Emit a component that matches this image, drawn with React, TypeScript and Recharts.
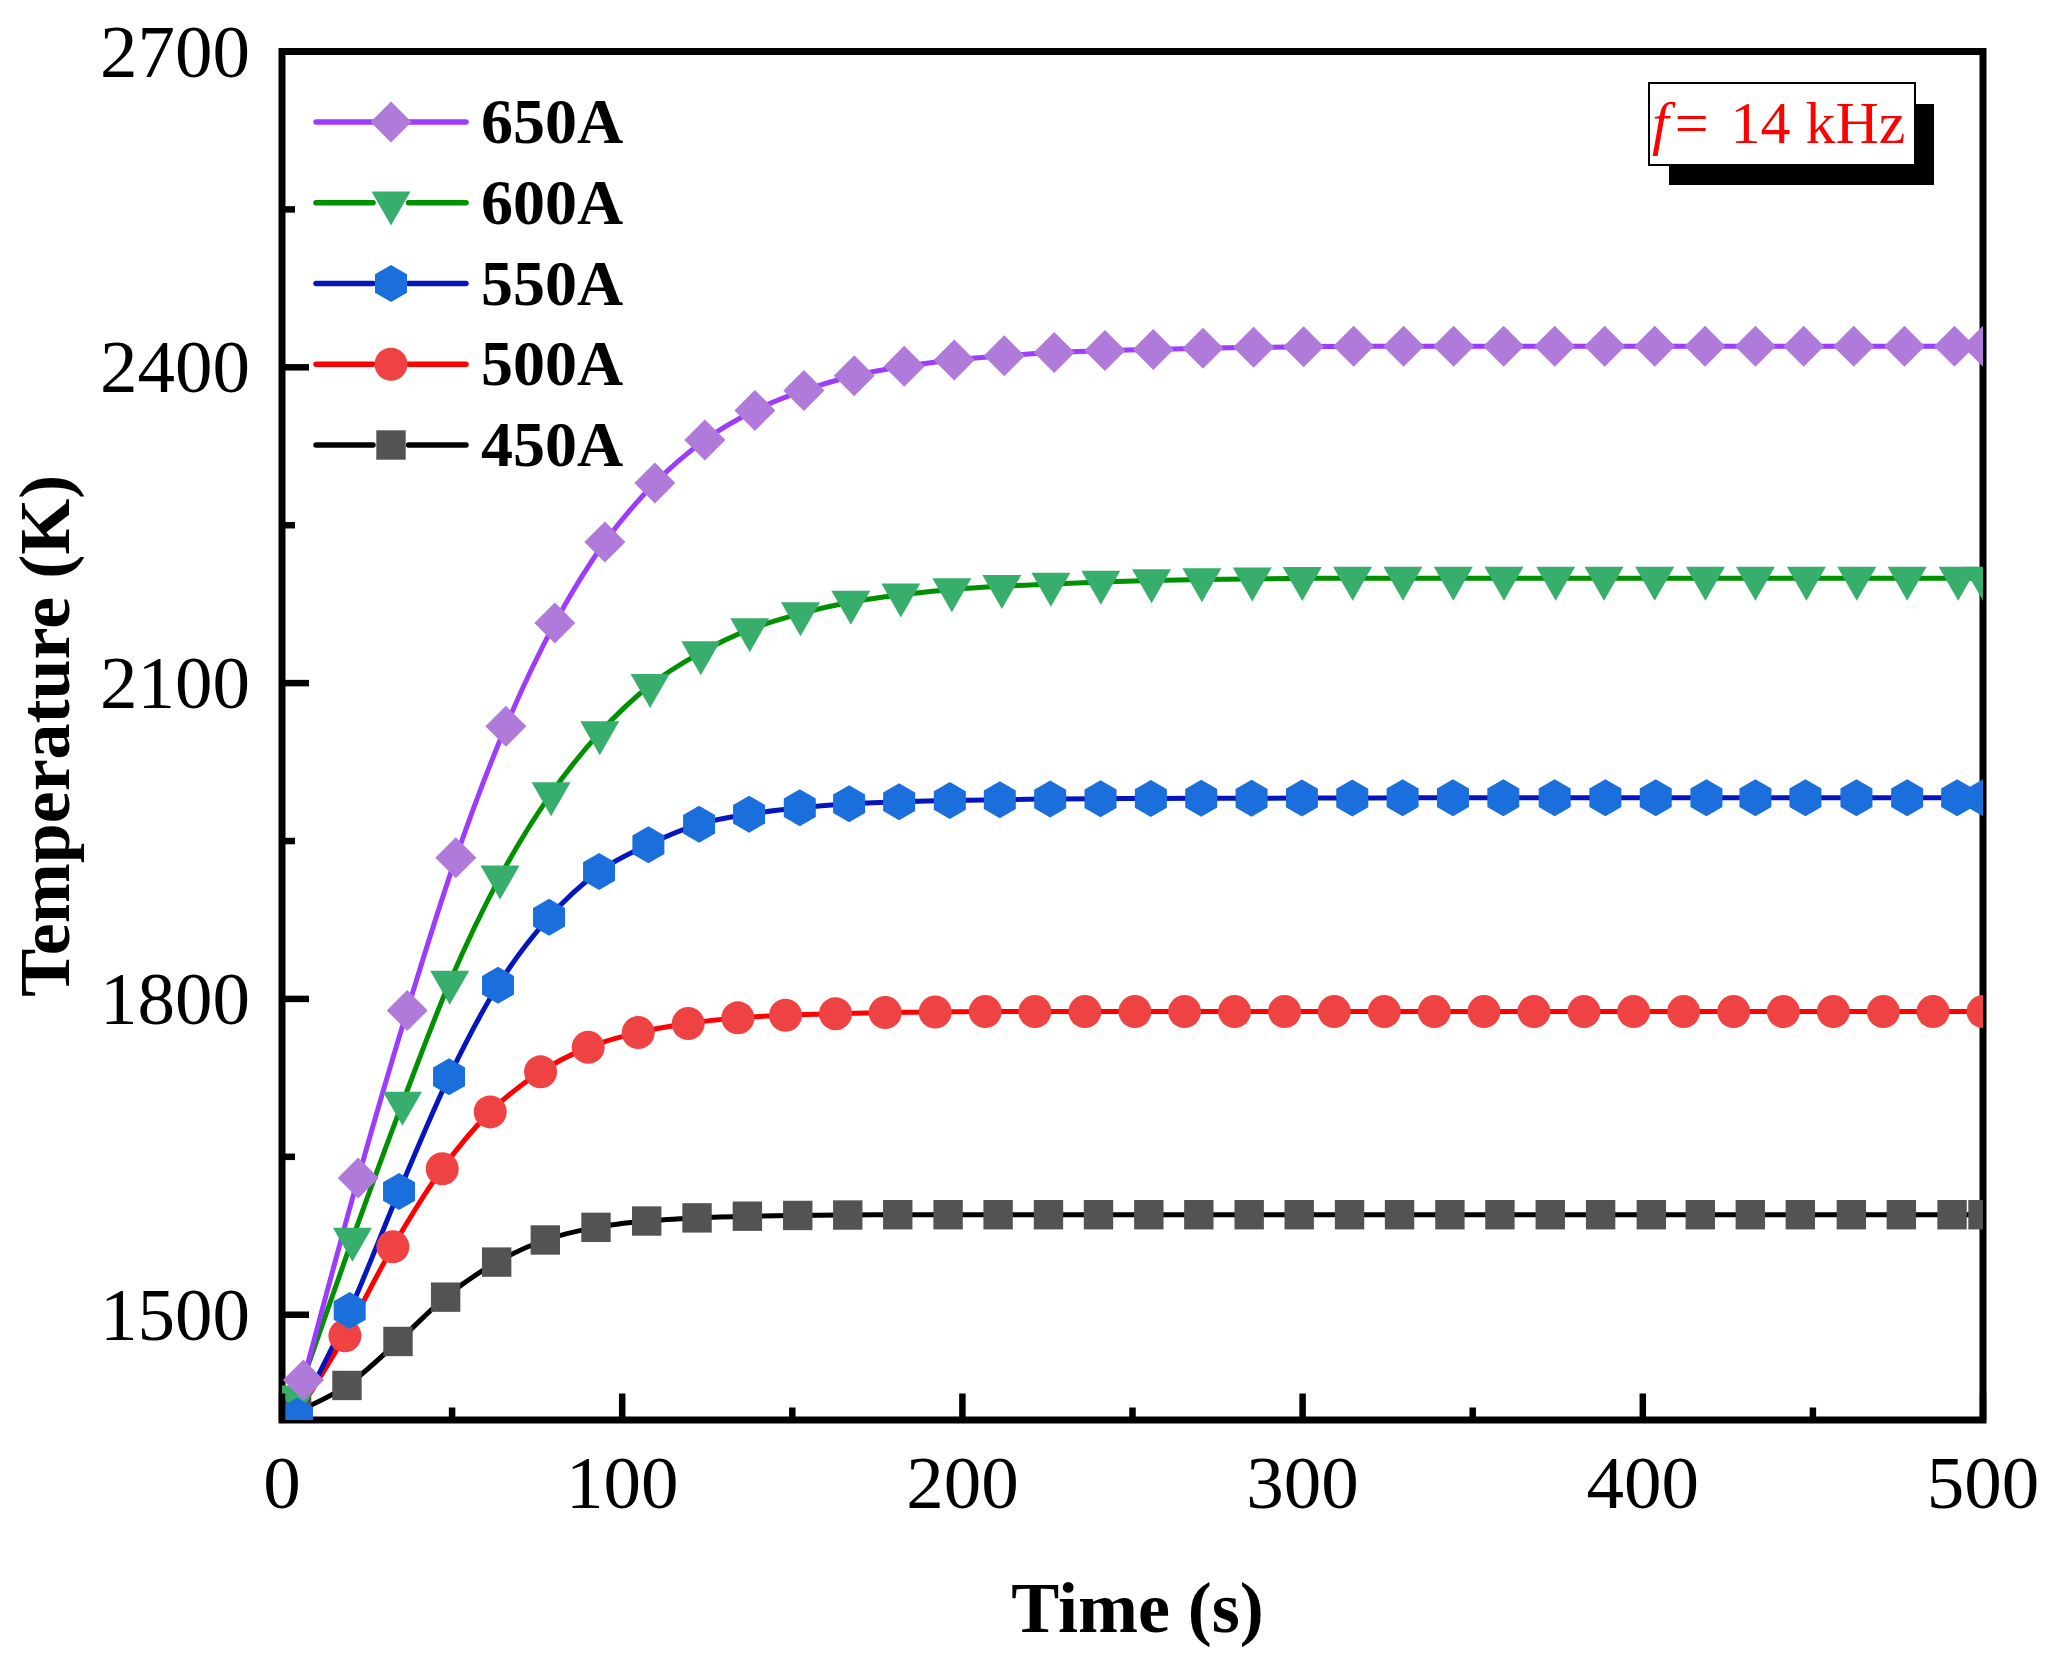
import React from 'react';
import { LineChart, Line, XAxis, YAxis, ReferenceArea } from 'recharts';

// marker positions (time in s, temperature in K)
const TIME_650 = [6.3, 22.4, 36.8, 51.1, 65.8, 80.2, 94.9, 109.6, 124.3, 139.0, 153.4, 168.2, 182.9, 197.6, 212.3, 227.0, 241.9, 256.1, 270.7, 285.6, 300.3, 315.0, 329.7, 344.4, 359.1, 374.1, 388.8, 403.5, 418.3, 433.1, 447.3, 462.0, 476.9, 491.6, 500];
const TEMP_650 = [1438, 1630, 1789, 1934, 2059, 2157, 2234, 2290, 2331, 2359, 2378, 2392, 2401, 2407, 2411, 2414, 2416, 2417, 2418, 2419, 2419.5, 2420, 2420, 2420, 2420, 2420, 2420, 2420, 2420, 2420, 2420, 2420, 2420, 2420, 2420];

const TIME_600 = [4.4, 20.7, 35.4, 49.3, 64.1, 79.1, 93.4, 108.2, 123.1, 137.5, 152.4, 167.2, 181.9, 196.9, 211.6, 226.0, 240.7, 255.6, 270.4, 285.2, 299.9, 314.7, 329.5, 344.3, 359.2, 374.4, 388.6, 403.5, 418.4, 433.1, 448.1, 462.9, 477.7, 492.7, 500];
const TEMP_600 = [1422, 1572, 1701, 1816, 1916, 1995, 2053, 2098, 2129, 2151, 2166, 2177, 2184, 2189, 2192, 2194, 2196, 2197.5, 2198.4, 2199, 2199.5, 2199.7, 2199.7, 2199.7, 2199.7, 2199.7, 2199.7, 2199.7, 2199.7, 2199.7, 2199.7, 2199.7, 2199.7, 2199.7, 2199.7];

const TIME_550 = [4.4, 19.9, 34.4, 49.1, 63.5, 78.5, 93.2, 107.7, 122.6, 137.3, 152.2, 166.7, 181.4, 196.3, 211.0, 225.8, 240.6, 255.4, 270.2, 285.0, 299.8, 314.6, 329.4, 344.2, 359.0, 374.1, 389.0, 403.8, 418.7, 433.1, 447.8, 462.8, 477.7, 492.4, 500];
const TEMP_550 = [1403.5, 1504, 1617, 1726, 1813, 1877.5, 1921, 1946.5, 1966, 1975.5, 1981.5, 1985.4, 1987.3, 1988.4, 1989.3, 1989.9, 1990.2, 1990.4, 1990.6, 1990.7, 1990.8, 1990.9, 1991, 1991, 1991, 1991, 1991, 1991, 1991, 1991, 1991, 1991, 1991, 1991, 1991];

const TIME_500 = [3.5, 18.5, 32.6, 47.1, 61.2, 76.0, 90.0, 104.7, 119.4, 134.0, 148.0, 162.7, 177.3, 192.0, 206.7, 221.3, 236.0, 250.7, 265.3, 280.0, 294.7, 309.3, 324.0, 338.7, 353.3, 368.0, 382.7, 397.3, 412.0, 426.7, 441.3, 456.0, 470.7, 485.3, 500];
const TEMP_500 = [1401, 1480, 1564.6, 1638.6, 1692.7, 1730.7, 1754, 1768, 1776.6, 1782, 1784.5, 1786, 1787, 1787.5, 1788, 1788, 1788, 1788, 1788, 1788, 1788, 1788, 1788, 1788, 1788, 1788, 1788, 1788, 1788, 1788, 1788, 1788, 1788, 1788, 1788];

const TIME_450 = [4.3, 19.1, 34.1, 48.1, 63.1, 77.4, 92.3, 107.2, 122.0, 136.8, 151.6, 166.3, 181.0, 195.8, 210.5, 225.3, 240.0, 254.8, 269.5, 284.3, 299.0, 313.8, 328.5, 343.3, 358.0, 372.8, 387.6, 402.5, 416.9, 431.6, 446.3, 461.3, 476.0, 490.9, 500];
const TEMP_450 = [1408, 1432.8, 1474.6, 1516.7, 1550, 1571, 1583, 1589, 1592, 1593.6, 1594.3, 1594.7, 1595, 1595, 1595, 1595, 1595, 1595, 1595, 1595, 1595, 1595, 1595, 1595, 1595, 1595, 1595, 1595, 1595, 1595, 1595, 1595, 1595, 1595, 1595];

const X_TICKS = [0, 50, 100, 150, 200, 250, 300, 350, 400, 450, 500];
const X_MAJOR = [0, 100, 200, 300, 400, 500];
const Y_TICKS = [1500, 1650, 1800, 1950, 2100, 2250, 2400, 2550, 2700];
const Y_MAJOR = [1500, 1800, 2100, 2400, 2700];

const FONT = '"Liberation Serif", "Times New Roman", serif';

type Shape = 'diamond' | 'triangleDown' | 'hexagon' | 'circle' | 'square';

const pairUp = (t: number[], v: number[]) => t.map((x, i) => ({ t: x, T: v[i] }));

const SERIES = [
  { name: '650A', shape: 'diamond' as Shape, line: '#9D3BFF', fill: '#B07ADB', data: pairUp(TIME_650, TEMP_650) },
  { name: '600A', shape: 'triangleDown' as Shape, line: '#009000', fill: '#38AE6C', data: pairUp(TIME_600, TEMP_600) },
  { name: '550A', shape: 'hexagon' as Shape, line: '#0616BE', fill: '#1B6FDC', data: pairUp(TIME_550, TEMP_550) },
  { name: '500A', shape: 'circle' as Shape, line: '#FF0000', fill: '#EF4343', data: pairUp(TIME_500, TEMP_500) },
  { name: '450A', shape: 'square' as Shape, line: '#000000', fill: '#535353', data: pairUp(TIME_450, TEMP_450) },
];

// drawing order (bottom to top)
const DRAW_ORDER = ['450A', '500A', '600A', '550A', '650A'];

function markerPath(shape: Shape, cx: number, cy: number) {
  switch (shape) {
    case 'diamond':
      return `M${cx},${cy - 20.5}L${cx + 20.5},${cy}L${cx},${cy + 20.5}L${cx - 20.5},${cy}Z`;
    case 'triangleDown':
      return `M${cx - 19.5},${cy - 11.3}L${cx + 19.5},${cy - 11.3}L${cx},${cy + 22.7}Z`;
    case 'hexagon':
      return `M${cx},${cy - 18.5}L${cx + 16},${cy - 9.25}L${cx + 16},${cy + 9.25}L${cx},${cy + 18.5}L${cx - 16},${cy + 9.25}L${cx - 16},${cy - 9.25}Z`;
    case 'square':
      return `M${cx - 14.7},${cy - 14.7}h29.4v29.4h-29.4Z`;
    default:
      return '';
  }
}

const Marker = ({ shape, cx, cy, fill }: { shape: Shape; cx: number; cy: number; fill: string }) =>
  shape === 'circle' ? <circle cx={cx} cy={cy} r={16.5} fill={fill} /> : <path d={markerPath(shape, cx, cy)} fill={fill} />;

const XTick = (props: any) => {
  const { x, y, payload } = props;
  const major = X_MAJOR.includes(payload.value);
  return (
    <g>
      <line x1={x} x2={x} y1={y} y2={y - (major ? 26.5 : 12.5)} stroke="#000" strokeWidth={6.5} />
      {major && (
        <text x={x} y={y + 88} textAnchor="middle" fontFamily={FONT} fontSize={75} fill="#000">
          {payload.value}
        </text>
      )}
    </g>
  );
};

const YTick = (props: any) => {
  const { x, y, payload } = props;
  const major = Y_MAJOR.includes(payload.value);
  return (
    <g>
      <line x1={x} x2={x + (major ? 27 : 13)} y1={y} y2={y} stroke="#000" strokeWidth={6.5} />
      {major && (
        <text x={x - 32} y={y + 25} textAnchor="end" fontFamily={FONT} fontSize={75} fill="#000">
          {payload.value}
        </text>
      )}
    </g>
  );
};

const XTitle = (props: any) => {
  const vb = props.viewBox || { x: 282, y: 1412, width: 1701 };
  return (
    <text x={vb.x + vb.width / 2 + 5} y={vb.y + 212} textAnchor="middle" fontFamily={FONT} fontSize={72} fontWeight="bold" fill="#000">
      Time (s)
    </text>
  );
};

const YTitle = (props: any) => {
  const vb = props.viewBox || { x: 82, y: 43.5, height: 1368.5 };
  const cy = vb.y + vb.height / 2;
  return (
    <text transform={`translate(69, ${cy}) rotate(-90)`} textAnchor="middle" fontFamily={FONT} fontSize={72} fontWeight="bold" fill="#000">
      Temperature (K)
    </text>
  );
};

// the chart is pulled 8px left over the body margin so the rotated title has room
const W = 2052;
const H = 1645;

export default function App() {
  const ordered = DRAW_ORDER.map((n) => SERIES.find((s) => s.name === n)!);
  return (
    <div style={{ position: 'relative', width: W, height: H, marginLeft: -8, background: '#fff' }}>
      <LineChart width={W} height={H} margin={{ top: 43.5, right: 69, bottom: 83, left: 82 }}>
        <XAxis
          dataKey="t"
          type="number"
          domain={[0, 500]}
          ticks={X_TICKS}
          interval={0}
          allowDataOverflow
          axisLine={false}
          tickLine={false}
          tickSize={0}
          tickMargin={0}
          height={150}
          tick={<XTick />}
          label={<XTitle />}
        />
        <YAxis
          type="number"
          domain={[1400, 2700]}
          ticks={Y_TICKS}
          interval={0}
          allowDataOverflow
          axisLine={false}
          tickLine={false}
          tickSize={0}
          tickMargin={0}
          width={200}
          tick={<YTick />}
          label={<YTitle />}
        />
        {ordered.map((s) => (
          <Line
            key={s.name}
            name={s.name}
            data={s.data}
            dataKey="T"
            type="monotone"
            stroke={s.line}
            strokeWidth={5}
            activeDot={false}
            isAnimationActive={false}
            dot={(p: any) => <Marker key={`${s.name}-${p.index}`} shape={s.shape} cx={p.cx} cy={p.cy} fill={s.fill} />}
          />
        ))}
        <ReferenceArea x1={0} x2={500} y1={1400} y2={2700} fill="none" fillOpacity={0} stroke="#000" strokeWidth={7} />
      </LineChart>

      <svg width={W} height={H} style={{ position: 'absolute', left: 0, top: 0, pointerEvents: 'none' }}>
        {/* legend */}
        {SERIES.map((s, i) => {
          const y = 114 + i * 80.75;
          return (
            <g key={s.name}>
              <line x1={316} x2={373} y1={y} y2={y} stroke={s.line} strokeWidth={5.5} strokeLinecap="round" />
              <line x1={408.5} x2={466} y1={y} y2={y} stroke={s.line} strokeWidth={5.5} strokeLinecap="round" />
              <Marker shape={s.shape} cx={391} cy={y} fill={s.fill} />
              <text x={481} y={y + 21} fontFamily={FONT} fontSize={64} fontWeight="bold" fill="#000">
                {s.name}
              </text>
            </g>
          );
        })}
        {/* frequency note */}
        <rect x={1669} y={96} width={265} height={81} fill="#000" />
        <rect x={1649} y={75} width={266} height={82} fill="#fff" stroke="#000" strokeWidth={2} />
        <text x={1652} y={135} fontFamily={FONT} fontSize={60} fill="#FF0000">
          <tspan fontStyle="italic">f</tspan>
          <tspan dx={6}>=</tspan>
          <tspan dx={22}>14 kHz</tspan>
        </text>
      </svg>
    </div>
  );
}
